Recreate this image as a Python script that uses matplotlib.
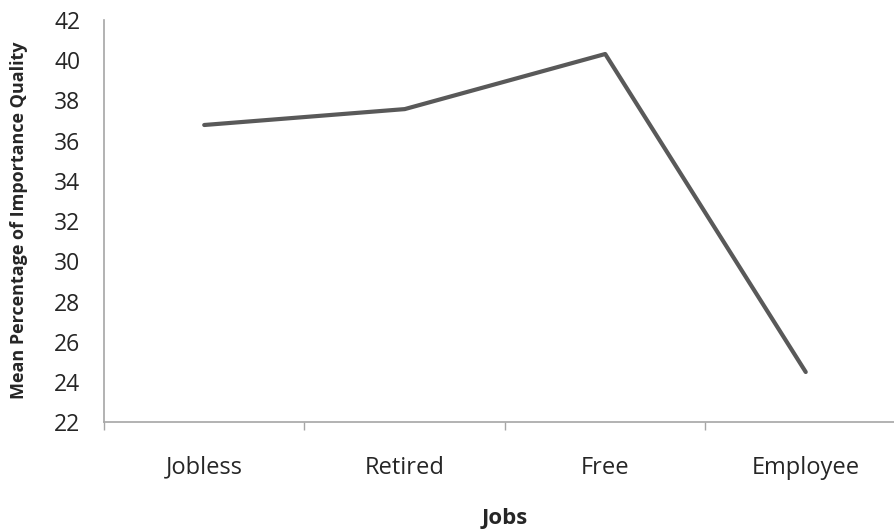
import matplotlib

matplotlib.use("Agg")
import matplotlib.pyplot as plt
import numpy as np

plt.rcParams["font.family"] = ["Open Sans", "DejaVu Sans"]

jobs = ["Jobless", "Retired", "Free", "Employee"]
mean_quality = [36.78, 37.57, 40.31, 24.5]
y_ticks = [22, 24, 26, 28, 30, 32, 34, 36, 38, 40, 42]

AXIS_GRAY = "#a6a6a6"
TEXT_COLOR = "#262626"

fig = plt.figure(figsize=(8.94, 5.29), dpi=100)
ax = fig.add_axes([0.1163, 0.2017, 0.8971, 0.7605])

x = np.arange(len(jobs))
ax.plot(x, mean_quality, color="#595959", linewidth=3.0, solid_capstyle="round")

ax.set_xlim(-0.5, len(jobs) - 0.5)
ax.set_ylim(y_ticks[0], y_ticks[-1])
ax.set_yticks(y_ticks)
ax.set_yticklabels([str(v) for v in y_ticks], fontsize=16.5, color=TEXT_COLOR)
ax.tick_params(axis="y", length=0, pad=17)

# category labels sit between the boundary ticks
ax.set_xticks(np.arange(-0.5, len(jobs)), minor=False)
ax.set_xticklabels([])
ax.set_xticks(x, minor=True)
ax.set_xticklabels(jobs, minor=True, fontsize=17, color=TEXT_COLOR)
ax.tick_params(axis="x", which="major", length=6, width=1, color=AXIS_GRAY, direction="out")
ax.tick_params(axis="x", which="minor", length=0, pad=24)

for side in ("top", "right"):
    ax.spines[side].set_visible(False)
for side in ("left", "bottom"):
    ax.spines[side].set_color(AXIS_GRAY)
    ax.spines[side].set_linewidth(1.2)

fig.text(0.5645, 0.019, "Jobs", ha="center", va="center",
         fontsize=16, fontweight="bold", color=TEXT_COLOR)
fig.text(0.021, 0.584, "Mean Percentage of Importance Quality", ha="center", va="center",
         rotation=90, fontsize=13, fontweight="bold", color=TEXT_COLOR)

fig.savefig("out.png", dpi=100)
